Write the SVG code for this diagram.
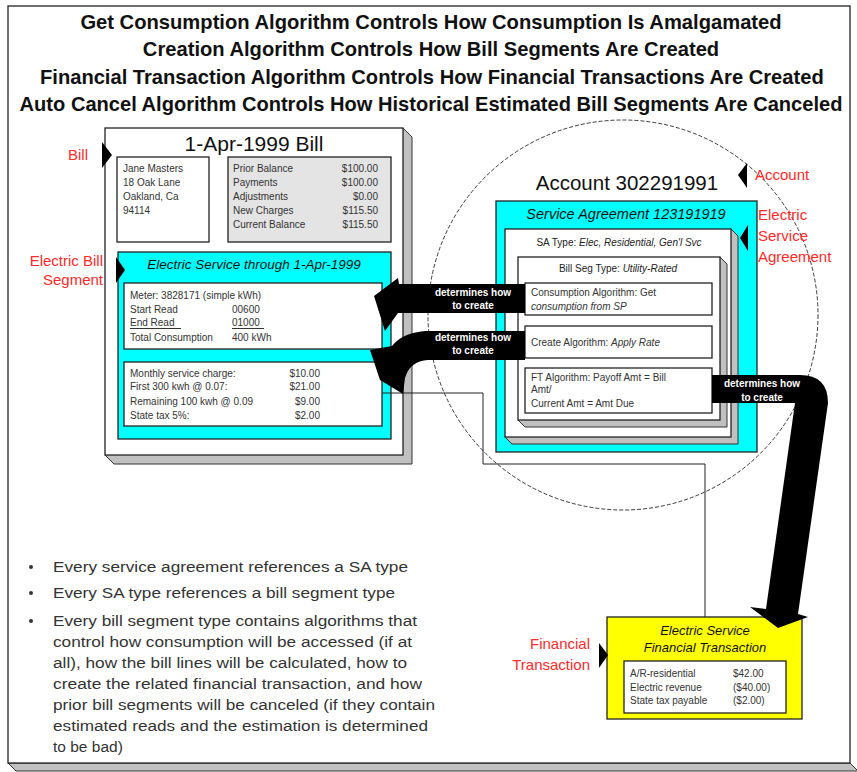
<svg xmlns="http://www.w3.org/2000/svg" width="857" height="772" viewBox="0 0 857 772">
<style>
text{font-family:"Liberation Sans",Arial,sans-serif;}
.title{font-size:21px;font-weight:bold;fill:#111;text-anchor:middle;}
.box{stroke:#222;stroke-width:1.3;}
.bevel{fill:#c0c0c0;stroke:#333;stroke-width:1;}
.red{font-size:15px;fill:#ff2a2a;}
.sm{font-size:10px;fill:#333;}
.it{font-style:italic;}
.wt{font-size:10px;font-weight:bold;fill:#fff;text-anchor:middle;}
.bul{font-size:15.5px;fill:#333;}
.mk{fill:#000;}
.conn{fill:none;stroke:#222;stroke-width:1;}
</style>
<rect width="857" height="772" fill="#fff"/>
<g id="frame">
<polygon class="bevel" points="8,763 16,771 858,771 850,763"/>
<rect x="8" y="6" width="842" height="757" fill="#fff" class="box"/>
</g>
<g id="titles" transform="translate(431,0) scale(0.85,1)">
<text class="title" x="0" y="29" textLength="825" lengthAdjust="spacingAndGlyphs">Get Consumption Algorithm Controls How Consumption Is Amalgamated</text>
<text class="title" x="0" y="56" textLength="678" lengthAdjust="spacingAndGlyphs">Creation Algorithm Controls How Bill Segments Are Created</text>
<text class="title" x="1" y="84" textLength="922" lengthAdjust="spacingAndGlyphs">Financial Transaction Algorithm Controls How Financial Transactions Are Created</text>
<text class="title" x="0" y="111" textLength="968" lengthAdjust="spacingAndGlyphs">Auto Cancel Algorithm Controls How Historical Estimated Bill Segments Are Canceled</text>
</g>
<g id="account-circle">
<circle cx="623" cy="315" r="195" fill="none" stroke="#222" stroke-width="0.9" stroke-dasharray="4 2"/>
<text x="627" y="190" font-size="20.5" fill="#111" text-anchor="middle">Account 302291991</text>
</g>
<g id="bill">
<polygon class="bevel" points="403,128 412,137 412,464 114,464 105,455"/>
<rect x="105" y="128" width="298" height="327" fill="#fff" class="box"/>
<text x="254" y="151" font-size="21" fill="#111" text-anchor="middle">1-Apr-1999 Bill</text>
<rect x="117" y="157" width="92" height="85" fill="#fff" class="box"/>
<text class="sm" x="123" y="172">Jane Masters</text>
<text class="sm" x="123" y="186">18 Oak Lane</text>
<text class="sm" x="123" y="200">Oakland, Ca</text>
<text class="sm" x="123" y="214">94114</text>
<rect x="228" y="157" width="163" height="85" fill="#e4e4e4" class="box"/>
<text class="sm" x="233" y="172">Prior Balance</text>
<text class="sm" x="233" y="186">Payments</text>
<text class="sm" x="233" y="200">Adjustments</text>
<text class="sm" x="233" y="214">New Charges</text>
<text class="sm" x="233" y="228">Current Balance</text>
<text class="sm" x="378" y="172" text-anchor="end">$100.00</text>
<text class="sm" x="378" y="186" text-anchor="end">$100.00</text>
<text class="sm" x="378" y="200" text-anchor="end">$0.00</text>
<text class="sm" x="378" y="214" text-anchor="end">$115.50</text>
<text class="sm" x="378" y="228" text-anchor="end">$115.50</text>
</g>
<g id="bill-segment">
<rect x="118" y="252" width="273" height="187" fill="#00ffff" class="box"/>
<text class="it" x="254" y="269" font-size="13.5" fill="#111" text-anchor="middle">Electric Service through 1-Apr-1999</text>
<rect x="124" y="283" width="258" height="66" fill="#fff" class="box"/>
<text class="sm" x="130" y="299">Meter: 3828171 (simple kWh)</text>
<text class="sm" x="130" y="313">Start Read</text>
<text class="sm" x="232" y="313">00600</text>
<text class="sm" x="130" y="326">End Read</text>
<text class="sm" x="232" y="326">01000</text>
<line x1="130" y1="328.5" x2="181" y2="328.5" stroke="#333" stroke-width="1"/>
<line x1="232" y1="328.5" x2="264" y2="328.5" stroke="#333" stroke-width="1"/>
<text class="sm" x="130" y="341">Total Consumption</text>
<text class="sm" x="232" y="341">400 kWh</text>
<rect x="124" y="362" width="258" height="64" fill="#fff" class="box"/>
<text class="sm" x="130" y="377">Monthly service charge:</text>
<text class="sm" x="130" y="390">First 300 kwh @ 0.07:</text>
<text class="sm" x="130" y="405">Remaining 100 kwh @ 0.09</text>
<text class="sm" x="130" y="419">State tax 5%:</text>
<text class="sm" x="320" y="377" text-anchor="end">$10.00</text>
<text class="sm" x="320" y="390" text-anchor="end">$21.00</text>
<text class="sm" x="320" y="405" text-anchor="end">$9.00</text>
<text class="sm" x="320" y="419" text-anchor="end">$2.00</text>
</g>
<g id="service-agreement">
<rect x="496" y="201" width="261" height="251" fill="#00ffff" class="box"/>
<text class="it" x="626" y="219" font-size="14.5" fill="#111" text-anchor="middle">Service Agreement 123191919</text>
<polygon class="bevel" points="731,229 738,236 738,444 512,444 505,437"/>
<rect x="505" y="229" width="226" height="208" fill="#fff" class="box"/>
<text x="619" y="246" font-size="10" fill="#222" text-anchor="middle">SA Type: <tspan class="it">Elec, Residential, Gen'l Svc</tspan></text>
<polygon class="bevel" points="720,257 727,264 727,427 525,427 518,420"/>
<rect x="518" y="257" width="202" height="163" fill="#fff" class="box"/>
<text x="618" y="272" font-size="10" fill="#222" text-anchor="middle">Bill Seg Type: <tspan class="it">Utility-Rated</tspan></text>
<rect x="525" y="283" width="187" height="32" fill="#fff" class="box"/>
<text class="sm" x="531" y="296">Consumption Algorithm: Get</text>
<text class="sm it" x="531" y="310">consumption from SP</text>
<rect x="525" y="326" width="187" height="32" fill="#fff" class="box"/>
<text class="sm" x="531" y="346">Create Algorithm: <tspan class="it">Apply Rate</tspan></text>
<rect x="525" y="368" width="187" height="45" fill="#fff" class="box"/>
<text class="sm" x="531" y="381">FT Algorithm: Payoff Amt = Bill</text>
<text class="sm" x="531" y="393">Amt/</text>
<text class="sm" x="531" y="407">Current Amt = Amt Due</text>
</g>
<g id="financial-transaction">
<rect x="607" y="617" width="195" height="102" fill="#ffff00" class="box"/>
<text class="it" x="705" y="635" font-size="13" fill="#111" text-anchor="middle">Electric Service</text>
<text class="it" x="705" y="652" font-size="13" fill="#111" text-anchor="middle">Financial Transaction</text>
<rect x="624" y="661" width="162" height="52" fill="#fff" class="box"/>
<text class="sm" x="630" y="677" font-size="9.5">A/R-residential</text>
<text class="sm" x="630" y="691" font-size="9.5">Electric revenue</text>
<text class="sm" x="630" y="704" font-size="9.5">State tax payable</text>
<text class="sm" x="733" y="677" font-size="9.5">$42.00</text>
<text class="sm" x="733" y="691" font-size="9.5">($40.00)</text>
<text class="sm" x="733" y="704" font-size="9.5">($2.00)</text>
</g>
<g id="connectors">
<polyline class="conn" points="382,393 483,393 483,464 705,464 705,617"/>
<path d="M525,284 L399,284 L398,278 L374,296 L385,331 L398,313 L525,313 Z" fill="#000"/>
<path d="M525,331 L425,331 Q402,333 392,346 L370,350 L380,380 L403,394 L405,378 Q410,361 428,360 L525,360 Z" fill="#000"/>
<path d="M712,375 L800,375 Q828,375 828,403 L798,614 L808,617 L778,628 L750,607 L766,609 L795,403 L712,403 Z" fill="#000"/>
<text class="wt" x="473" y="296">determines how</text>
<text class="wt" x="473" y="309">to create</text>
<text class="wt" x="473" y="341">determines how</text>
<text class="wt" x="473" y="354">to create</text>
<text class="wt" x="762" y="387">determines how</text>
<text class="wt" x="762" y="401">to create</text>
</g>
<g id="labels">
<polygon class="mk" points="102,142 112,155 102,168"/>
<text class="red" x="68" y="160">Bill</text>
<polygon class="mk" points="116,257 125,270 116,283"/>
<text class="red" x="103" y="266" text-anchor="end">Electric Bill</text>
<text class="red" x="103" y="285" text-anchor="end">Segment</text>
<polygon class="mk" points="747,163 738,175 747,188"/>
<text class="red" x="755" y="180">Account</text>
<polygon class="mk" points="748,225 740,238 748,251"/>
<text class="red" x="758" y="220">Electric</text>
<text class="red" x="758" y="241">Service</text>
<text class="red" x="758" y="262">Agreement</text>
<polygon class="mk" points="599,643 608,655 599,668"/>
<text class="red" x="590" y="649" text-anchor="end">Financial</text>
<text class="red" x="590" y="670" text-anchor="end">Transaction</text>
</g>
<g id="notes">
<circle cx="31" cy="567" r="2" fill="#333"/>
<circle cx="31" cy="593" r="2" fill="#333"/>
<circle cx="31" cy="621" r="2" fill="#333"/>
<text class="bul" x="53" y="572" textLength="355" lengthAdjust="spacingAndGlyphs">Every service agreement references a SA type</text>
<text class="bul" x="53" y="598" textLength="342" lengthAdjust="spacingAndGlyphs">Every SA type references a bill segment type</text>
<text class="bul" x="53" y="626" textLength="364" lengthAdjust="spacingAndGlyphs">Every bill segment type contains algorithms that</text>
<text class="bul" x="53" y="647" textLength="359" lengthAdjust="spacingAndGlyphs">control how consumption will be accessed (if at</text>
<text class="bul" x="53" y="668" textLength="354" lengthAdjust="spacingAndGlyphs">all), how the bill lines will be calculated, how to</text>
<text class="bul" x="53" y="689" textLength="369" lengthAdjust="spacingAndGlyphs">create the related financial transaction, and how</text>
<text class="bul" x="53" y="710" textLength="382" lengthAdjust="spacingAndGlyphs">prior bill segments will be canceled (if they contain</text>
<text class="bul" x="53" y="731" textLength="375" lengthAdjust="spacingAndGlyphs">estimated reads and the estimation is determined</text>
<text class="bul" x="53" y="752">to be bad)</text>
</g>
</svg>
